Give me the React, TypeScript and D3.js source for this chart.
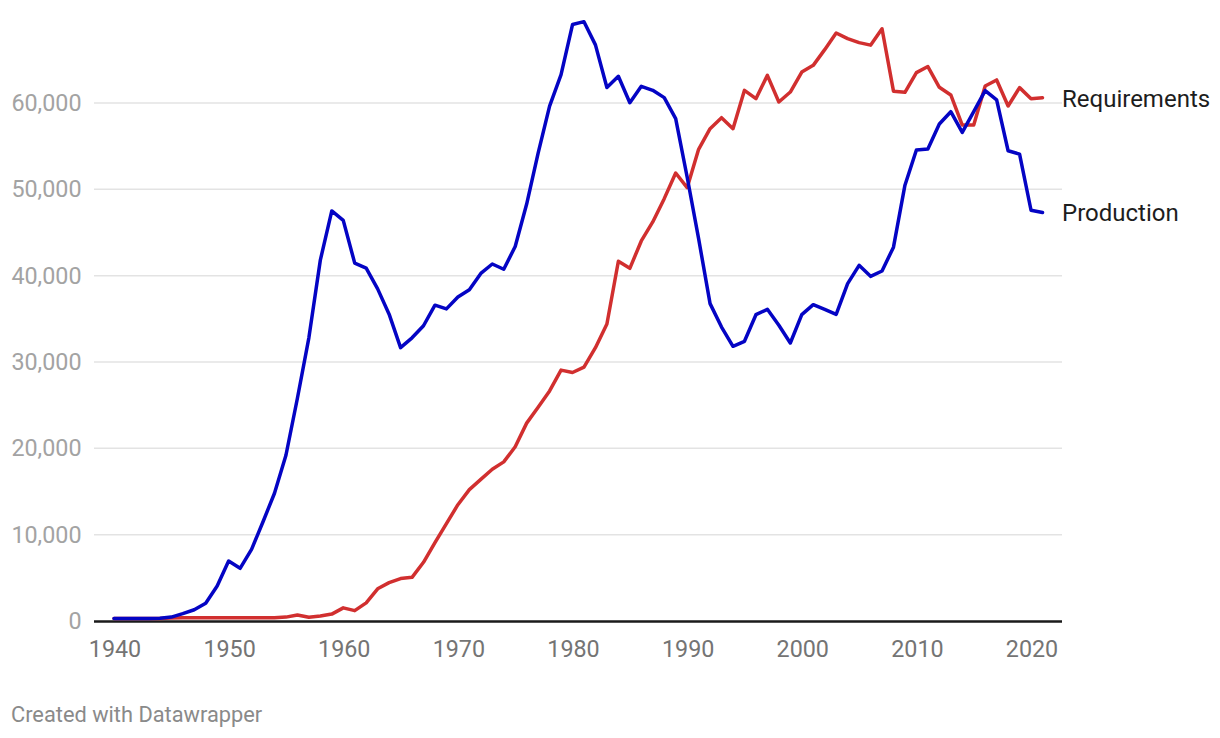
import React from "react";
import * as d3 from "d3";

const years: number[] = d3.range(1940, 2022);

const production: number[] = [
  300, 300, 300, 300, 320, 450, 850, 1300, 2050, 4050,
  6950, 6100, 8300, 11500, 14800, 19200, 25800, 32800, 41800, 47500,
  46400, 41450, 40880, 38470, 35540, 31660, 32800, 34200, 36580, 36150,
  37520, 38370, 40260, 41350, 40740, 43380, 48300, 54200, 59640, 63280,
  69090, 69420, 66730, 61800, 63100, 60030, 61930, 61470, 60620, 58190,
  51430, 44290, 36760, 34050, 31820, 32400, 35480, 36100, 34250, 32200,
  35480, 36640, 36100, 35520, 39070, 41200, 39920, 40540, 43300, 50480,
  54550, 54660, 57560, 58990, 56600, 58990, 61430, 60350, 54470, 54080,
  47580, 47310,
];

const requirements: number[] = [
  300, 300, 300, 300, 300, 350, 380, 380, 380, 380,
  380, 380, 380, 380, 380, 450, 700, 430, 580, 800,
  1520, 1200, 2100, 3730, 4440, 4910, 5060, 6800, 9070, 11290,
  13470, 15220, 16400, 17580, 18430, 20180, 22920, 24760, 26650, 29060,
  28780, 29400, 31660, 34400, 41670, 40850, 44020, 46220, 48920, 51890,
  50190, 54630, 57030, 58300, 57030, 61470, 60500, 63200, 60120, 61270,
  63590, 64360, 66180, 68110, 67450, 66990, 66700, 68600, 61370, 61240,
  63520, 64220, 61820, 60930, 57450, 57450, 61970, 62670, 59650, 61780,
  60500, 60620,
];

const yTicks: number[] = [0, 10000, 20000, 30000, 40000, 50000, 60000];
const xTicks: number[] = [1940, 1950, 1960, 1970, 1980, 1990, 2000, 2010, 2020];

const seriesNames = { requirements: "Requirements", production: "Production" };
const footerText = "Created with Datawrapper";

const W = 1220;
const H = 738;
const FONT = "Roboto, 'Noto Sans', sans-serif";

export default function App() {
  const x = d3.scaleLinear().domain([1940, 2021]).range([114, 1042.5]);
  const y = d3.scaleLinear().domain([0, 60000]).range([621, 103]);

  const line = d3
    .line<number>()
    .x((_, i) => x(years[i]))
    .y((d) => y(d));

  const gridX0 = 94;
  const gridX1 = 1062;
  const fmt = d3.format(",");

  return (
    <div style={{ position: "fixed", left: 0, top: 0, width: W, height: H, background: "#fff" }}>
      <svg width={W} height={H} style={{ display: "block", fontFamily: FONT }}>
        {yTicks
          .filter((t) => t > 0)
          .map((t) => (
            <line key={"g" + t} x1={gridX0} x2={gridX1} y1={y(t)} y2={y(t)} stroke="#e3e3e3" strokeWidth={1.5} />
          ))}
        {yTicks.map((t) => (
          <text key={"yl" + t} x={81.5} y={y(t) + 8} textAnchor="end" fontSize={23.3} fill="#a3a3a3">
            {fmt(t)}
          </text>
        ))}
        {xTicks.map((t) => (
          <text key={"xl" + t} x={x(t) + 1} y={656.5} textAnchor="middle" fontSize={23.3} fill="#747474">
            {t}
          </text>
        ))}
        <line x1={gridX0} x2={gridX1} y1={y(0) + 0.5} y2={y(0) + 0.5} stroke="#1a1a1a" strokeWidth={2.5} />
        <path d={line(requirements) || ""} fill="none" stroke="#d12f2f" strokeWidth={3.5} strokeLinejoin="round" strokeLinecap="round" />
        <path d={line(production) || ""} fill="none" stroke="#0404c4" strokeWidth={3.5} strokeLinejoin="round" strokeLinecap="round" />
        <text x={1062} y={107} fontSize={24} fill="#1d1d1d">
          {seriesNames.requirements}
        </text>
        <text x={1062} y={220.5} fontSize={24} fill="#1d1d1d">
          {seriesNames.production}
        </text>
        <text x={11} y={722} fontSize={21.8} fill="#8a8a8a">
          {footerText}
        </text>
      </svg>
    </div>
  );
}
